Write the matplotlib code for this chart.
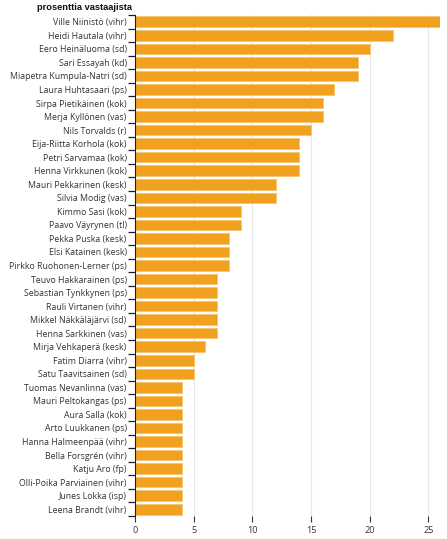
import matplotlib
matplotlib.use("Agg")
import matplotlib.pyplot as plt
import numpy as np

# === Data ===
names = [
    "Ville Niinistö (vihr)", "Heidi Hautala (vihr)", "Eero Heinäluoma (sd)",
    "Sari Essayah (kd)", "Miapetra Kumpula-Natri (sd)", "Laura Huhtasaari (ps)",
    "Sirpa Pietikäinen (kok)", "Merja Kyllönen (vas)", "Nils Torvalds (r)",
    "Eija-Riitta Korhola (kok)", "Petri Sarvamaa (kok)", "Henna Virkkunen (kok)",
    "Mauri Pekkarinen (kesk)", "Silvia Modig (vas)", "Kimmo Sasi (kok)",
    "Paavo Väyrynen (tl)", "Pekka Puska (kesk)", "Elsi Katainen (kesk)",
    "Pirkko Ruohonen-Lerner (ps)", "Teuvo Hakkarainen (ps)",
    "Sebastian Tynkkynen (ps)", "Rauli Virtanen (vihr)",
    "Mikkel Näkkäläjärvi (sd)", "Henna Sarkkinen (vas)",
    "Mirja Vehkaperä (kesk)", "Fatim Diarra (vihr)", "Satu Taavitsainen (sd)",
    "Tuomas Nevanlinna (vas)", "Mauri Peltokangas (ps)", "Aura Salla (kok)",
    "Arto Luukkanen (ps)", "Hanna Halmeenpää (vihr)", "Bella Forsgrén (vihr)",
    "Katju Aro (fp)", "Olli-Poika Parviainen (vihr)", "Junes Lokka (isp)",
    "Leena Brandt (vihr)",
]
values = [26, 22, 20, 19, 19, 17, 16, 16, 15, 14, 14, 14, 12, 12, 9, 9, 8, 8, 8,
          7, 7, 7, 7, 7, 6, 5, 5, 4, 4, 4, 4, 4, 4, 4, 4, 4, 4]

xticks = [0, 5, 10, 15, 20, 25]
title = "prosenttia vastaajista"

# === Figure ===
fig = plt.figure(figsize=(4.47, 5.39), dpi=100)
ax = fig.add_axes([135/447, 1 - 516/539, 305/447, 501/539])

y = np.arange(len(names))
ax.barh(y, values, height=0.78, color="#F0A11E", edgecolor="#F7C46E",
        linewidth=0.6, zorder=2)

ax.set_ylim(len(names) - 0.5, -0.5)
ax.set_xlim(0, 26)

ax.set_xticks(xticks)
ax.set_xticklabels([str(v) for v in xticks], fontsize=6.6, color="#333333",
                   family="Open Sans")
ax.tick_params(axis="x", length=4, width=0.8, color="#333333", pad=3)
ax.grid(axis="x", color="#e6e6e6", linewidth=0.8, zorder=0)

# names as labels, ticks at the band edges
ax.set_yticks(y)
ax.set_yticklabels(names, fontsize=6.3, color="#333333", family="Open Sans")
ax.tick_params(axis="y", length=0, pad=6)
ax.set_yticks(np.arange(len(names) + 1) - 0.5, minor=True)
ax.tick_params(axis="y", which="minor", length=5, width=0.9, color="#222222")

for s in ["top", "right", "bottom"]:
    ax.spines[s].set_visible(False)
ax.spines["left"].set_color("#222222")
ax.spines["left"].set_linewidth(0.8)

fig.text(37/447, 1 - 7/539, title, fontsize=6.7, fontweight="bold",
         va="center", ha="left", color="#111111", family="Liberation Sans")

plt.savefig("out.png", dpi=100)
